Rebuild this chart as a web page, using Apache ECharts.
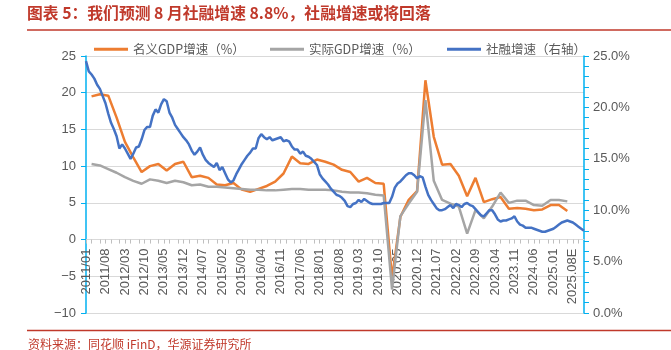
<!DOCTYPE html>
<html>
<head>
<meta charset="utf-8">
<script src="https://cdn.jsdelivr.net/npm/echarts@6/dist/echarts.min.js"></script>
<style>
  html, body { margin: 0; padding: 0; background: #fff; }
  #chart { width: 671px; height: 350px; }
</style>
</head>
<body>
<div id="chart"></div>
<script>
// Monthly axis 2011/01 – 2025/12; from 2025/08 the values are estimates ("E").
const months = [];
for (let y = 2011; y <= 2025; y++) {
  for (let m = 1; m <= 12; m++) {
    const mm = String(m).padStart(2, '0');
    let s = y < 2019 ? y + '/' + mm : y + '.' + mm;
    if (y === 2025 && m >= 8) s += 'E';
    months.push(s);
  }
}

// TSF stock growth, % (right axis), one value per month
const tsfGrowth = [
  24.5, 23.5, 23.2, 22.8, 22.2, 21.8, 21.1, 20.4, 19.4, 18.5,
  17.9, 17.2, 16.0, 16.4, 16.0, 15.5, 15.0, 15.5, 16.1, 16.2,
  16.9, 17.8, 18.1, 18.1, 19.2, 19.8, 19.5, 20.3, 20.8, 20.6,
  19.5, 19.0, 18.3, 17.9, 17.5, 17.1, 16.8, 16.4, 15.8, 15.4,
  15.7, 16.1, 15.4, 14.9, 14.6, 14.4, 14.2, 14.6, 13.9, 14.2,
  13.6, 13.0, 12.7, 12.9, 13.5, 14.0, 14.5, 14.9, 15.3, 15.6,
  16.0, 16.0, 17.0, 17.4, 17.1, 16.9, 17.1, 16.8, 16.9, 17.0,
  17.1, 16.7, 16.8, 16.7, 16.2, 15.9, 15.9, 15.5, 15.7, 15.3,
  15.2, 15.0, 14.7, 14.4, 13.5, 13.1, 12.8, 12.5, 12.1, 11.8,
  11.5, 11.4, 11.2, 10.9, 10.4, 10.3, 10.6, 10.7, 11.0, 10.8,
  11.1, 10.9, 10.7, 10.6, 10.6, 10.6, 10.6, 10.7, 10.7, 10.7,
  11.3, 12.2, 12.6, 12.8, 13.1, 13.4, 13.6, 13.6, 13.4, 13.1,
  13.3, 13.2, 12.3, 11.5, 11.0, 10.6, 10.2, 10.0, 10.0, 10.1,
  10.3, 10.5, 10.2, 10.6, 10.5, 10.3, 10.6, 10.7, 10.5, 10.4,
  10.1, 9.8, 9.5, 9.4, 9.7, 10.0, 10.0, 9.6, 9.1, 8.9,
  9.0, 9.0, 9.1, 9.2, 9.4, 8.9, 8.6, 8.5, 8.3, 8.3,
  8.3, 8.2, 8.1, 8.0, 7.9, 7.9, 8.0, 8.1, 8.2, 8.4,
  8.6, 8.8, 8.9, 9.0, 8.9, 8.8, 8.6, 8.4, 8.2, 8.0
];

// Quarterly GDP growth, %, 2011Q1 – 2025Q2 (plotted at quarter-end months)
const nominalGdp = [
  19.5, 19.8, 19.6, 16.6, 13.3, 11.2, 9.2, 10.0, 10.3, 9.4,
  10.3, 10.6, 8.5, 8.7, 8.4, 7.5, 7.4, 7.7, 6.8, 6.5,
  6.9, 7.3, 7.9, 9.0, 11.3, 10.4, 10.3, 10.9, 10.6, 10.2,
  9.5, 9.2, 7.9, 8.4, 7.7, 7.6, -5.3, 3.1, 5.4, 6.6,
  21.7, 14.0, 10.2, 10.3, 8.7, 5.9, 8.4, 5.1, 5.5, 5.8,
  4.2, 4.3, 4.2, 4.0, 4.1, 4.7, 4.7, 3.9
];
const realGdp = [
  10.3, 10.1, 9.6, 9.1, 8.5, 8.0, 7.6, 8.2, 8.0, 7.7,
  8.0, 7.8, 7.4, 7.5, 7.2, 7.2, 7.1, 7.0, 6.9, 6.8,
  6.8, 6.7, 6.7, 6.8, 6.9, 6.9, 6.8, 6.8, 6.8, 6.7,
  6.5, 6.4, 6.4, 6.3, 6.1, 6.0, -6.8, 3.2, 4.9, 6.5,
  19.0, 8.0, 5.4, 4.9, 4.5, 0.8, 4.0, 2.9, 4.5, 6.4,
  5.0, 5.3, 5.3, 4.7, 4.6, 5.4, 5.4, 5.2
];

const seriesNames = ['名义GDP增速（%）', '实际GDP增速（%）', '社融增速（右轴）'];
const colors = ['#ED7D31', '#A5A5A5', '#4472C4'];

// quarter k ends in month index 2 + 3k
const quarterly = arr => arr.map((v, k) => [months[2 + 3 * k], v]);

const red = '#C0392B';
const axisBlue = '#00B0F0';
const labelColor = '#595959';
const latin = 'Liberation Sans, Arial, sans-serif';
const cjk = 'Noto Sans CJK SC, sans-serif';

// plot box and left-axis range; the category axis sits on the zero line
const plot = { left: 86, right: 87, top: 56, bottom: 37 };
const leftMin = -10, leftMax = 25;
const plotHeight = 350 - plot.top - plot.bottom;
const zeroOffset = plotHeight * (0 - leftMin) / (leftMax - leftMin);

const legendAt = (name, left) => ({
  data: [name], left: left, top: 43, padding: 0,
  icon: 'rect', itemWidth: 34, itemHeight: 3,
  textStyle: { color: labelColor, fontSize: 12.5, fontFamily: cjk }
});

const chart = echarts.init(document.getElementById('chart'), null, { renderer: 'canvas' });
chart.setOption({
  animation: false,
  backgroundColor: '#fff',
  color: colors,
  title: {
    text: '图表 5：我们预测 8 月社融增速 8.8%，社融增速或将回落',
    left: 27, top: 5, padding: 0,
    textStyle: { color: red, fontSize: 15.8, fontWeight: 'bold', fontFamily: cjk }
  },
  legend: [
    legendAt(seriesNames[0], 94),
    legendAt(seriesNames[1], 270),
    legendAt(seriesNames[2], 447)
  ],
  grid: Object.assign({ containLabel: false, outerBoundsMode: 'none' }, plot),
  xAxis: {
    type: 'category',
    data: months,
    boundaryGap: false,
    position: 'bottom',
    offset: -zeroOffset,
    axisLine: { onZero: false, lineStyle: { color: '#D9D9D9', width: 1 } },
    axisTick: {
      show: true, length: 4,
      interval: (i) => [0, 2, 5].includes(i % 7),
      lineStyle: { color: '#BFBFBF' }
    },
    axisLabel: {
      interval: 6, rotate: 90, margin: 9,
      color: labelColor, fontSize: 13, fontFamily: latin
    },
    splitLine: { show: false }
  },
  yAxis: [
    {
      type: 'value', min: leftMin, max: leftMax, interval: 5,
      axisLine: { show: true, lineStyle: { color: axisBlue, width: 1.5 } },
      axisTick: { show: true, length: 5, lineStyle: { color: axisBlue } },
      axisLabel: {
        margin: 10, color: labelColor, fontSize: 13, fontFamily: latin,
        formatter: v => String(v).replace('-', '\u2212')
      },
      splitLine: { show: true, lineStyle: { color: '#D9D9D9', width: 1 } }
    },
    {
      type: 'value', min: 0, max: 25, interval: 5, position: 'right',
      axisLine: { show: true, lineStyle: { color: axisBlue, width: 1.5 } },
      axisTick: { show: true, length: 5, lineStyle: { color: axisBlue } },
      minorTick: { show: true, splitNumber: 5, length: 5, lineStyle: { color: axisBlue } },
      axisLabel: {
        margin: 9, color: labelColor, fontSize: 13, fontFamily: latin,
        formatter: v => v.toFixed(1) + '%'
      },
      splitLine: { show: false }
    }
  ],
  series: [
    {
      name: seriesNames[0], type: 'line', yAxisIndex: 0,
      data: quarterly(nominalGdp), symbol: 'none',
      lineStyle: { width: 2.5, color: colors[0] }
    },
    {
      name: seriesNames[1], type: 'line', yAxisIndex: 0,
      data: quarterly(realGdp), symbol: 'none',
      lineStyle: { width: 2.5, color: colors[1] }
    },
    {
      name: seriesNames[2], type: 'line', yAxisIndex: 1,
      data: tsfGrowth, symbol: 'none',
      lineStyle: { width: 2.5, color: colors[2] }
    }
  ],
  graphic: [
    { type: 'line', shape: { x1: 27, y1: 30, x2: 671, y2: 30 }, style: { stroke: red, lineWidth: 1.5 } },
    { type: 'line', shape: { x1: 27, y1: 330.5, x2: 671, y2: 330.5 }, style: { stroke: red, lineWidth: 1.5 } },
    {
      type: 'text', left: 28, top: 338,
      style: { text: '资料来源：同花顺 iFinD，华源证券研究所', fill: red, fontSize: 12, fontFamily: cjk }
    }
  ]
});
</script>
</body>
</html>
